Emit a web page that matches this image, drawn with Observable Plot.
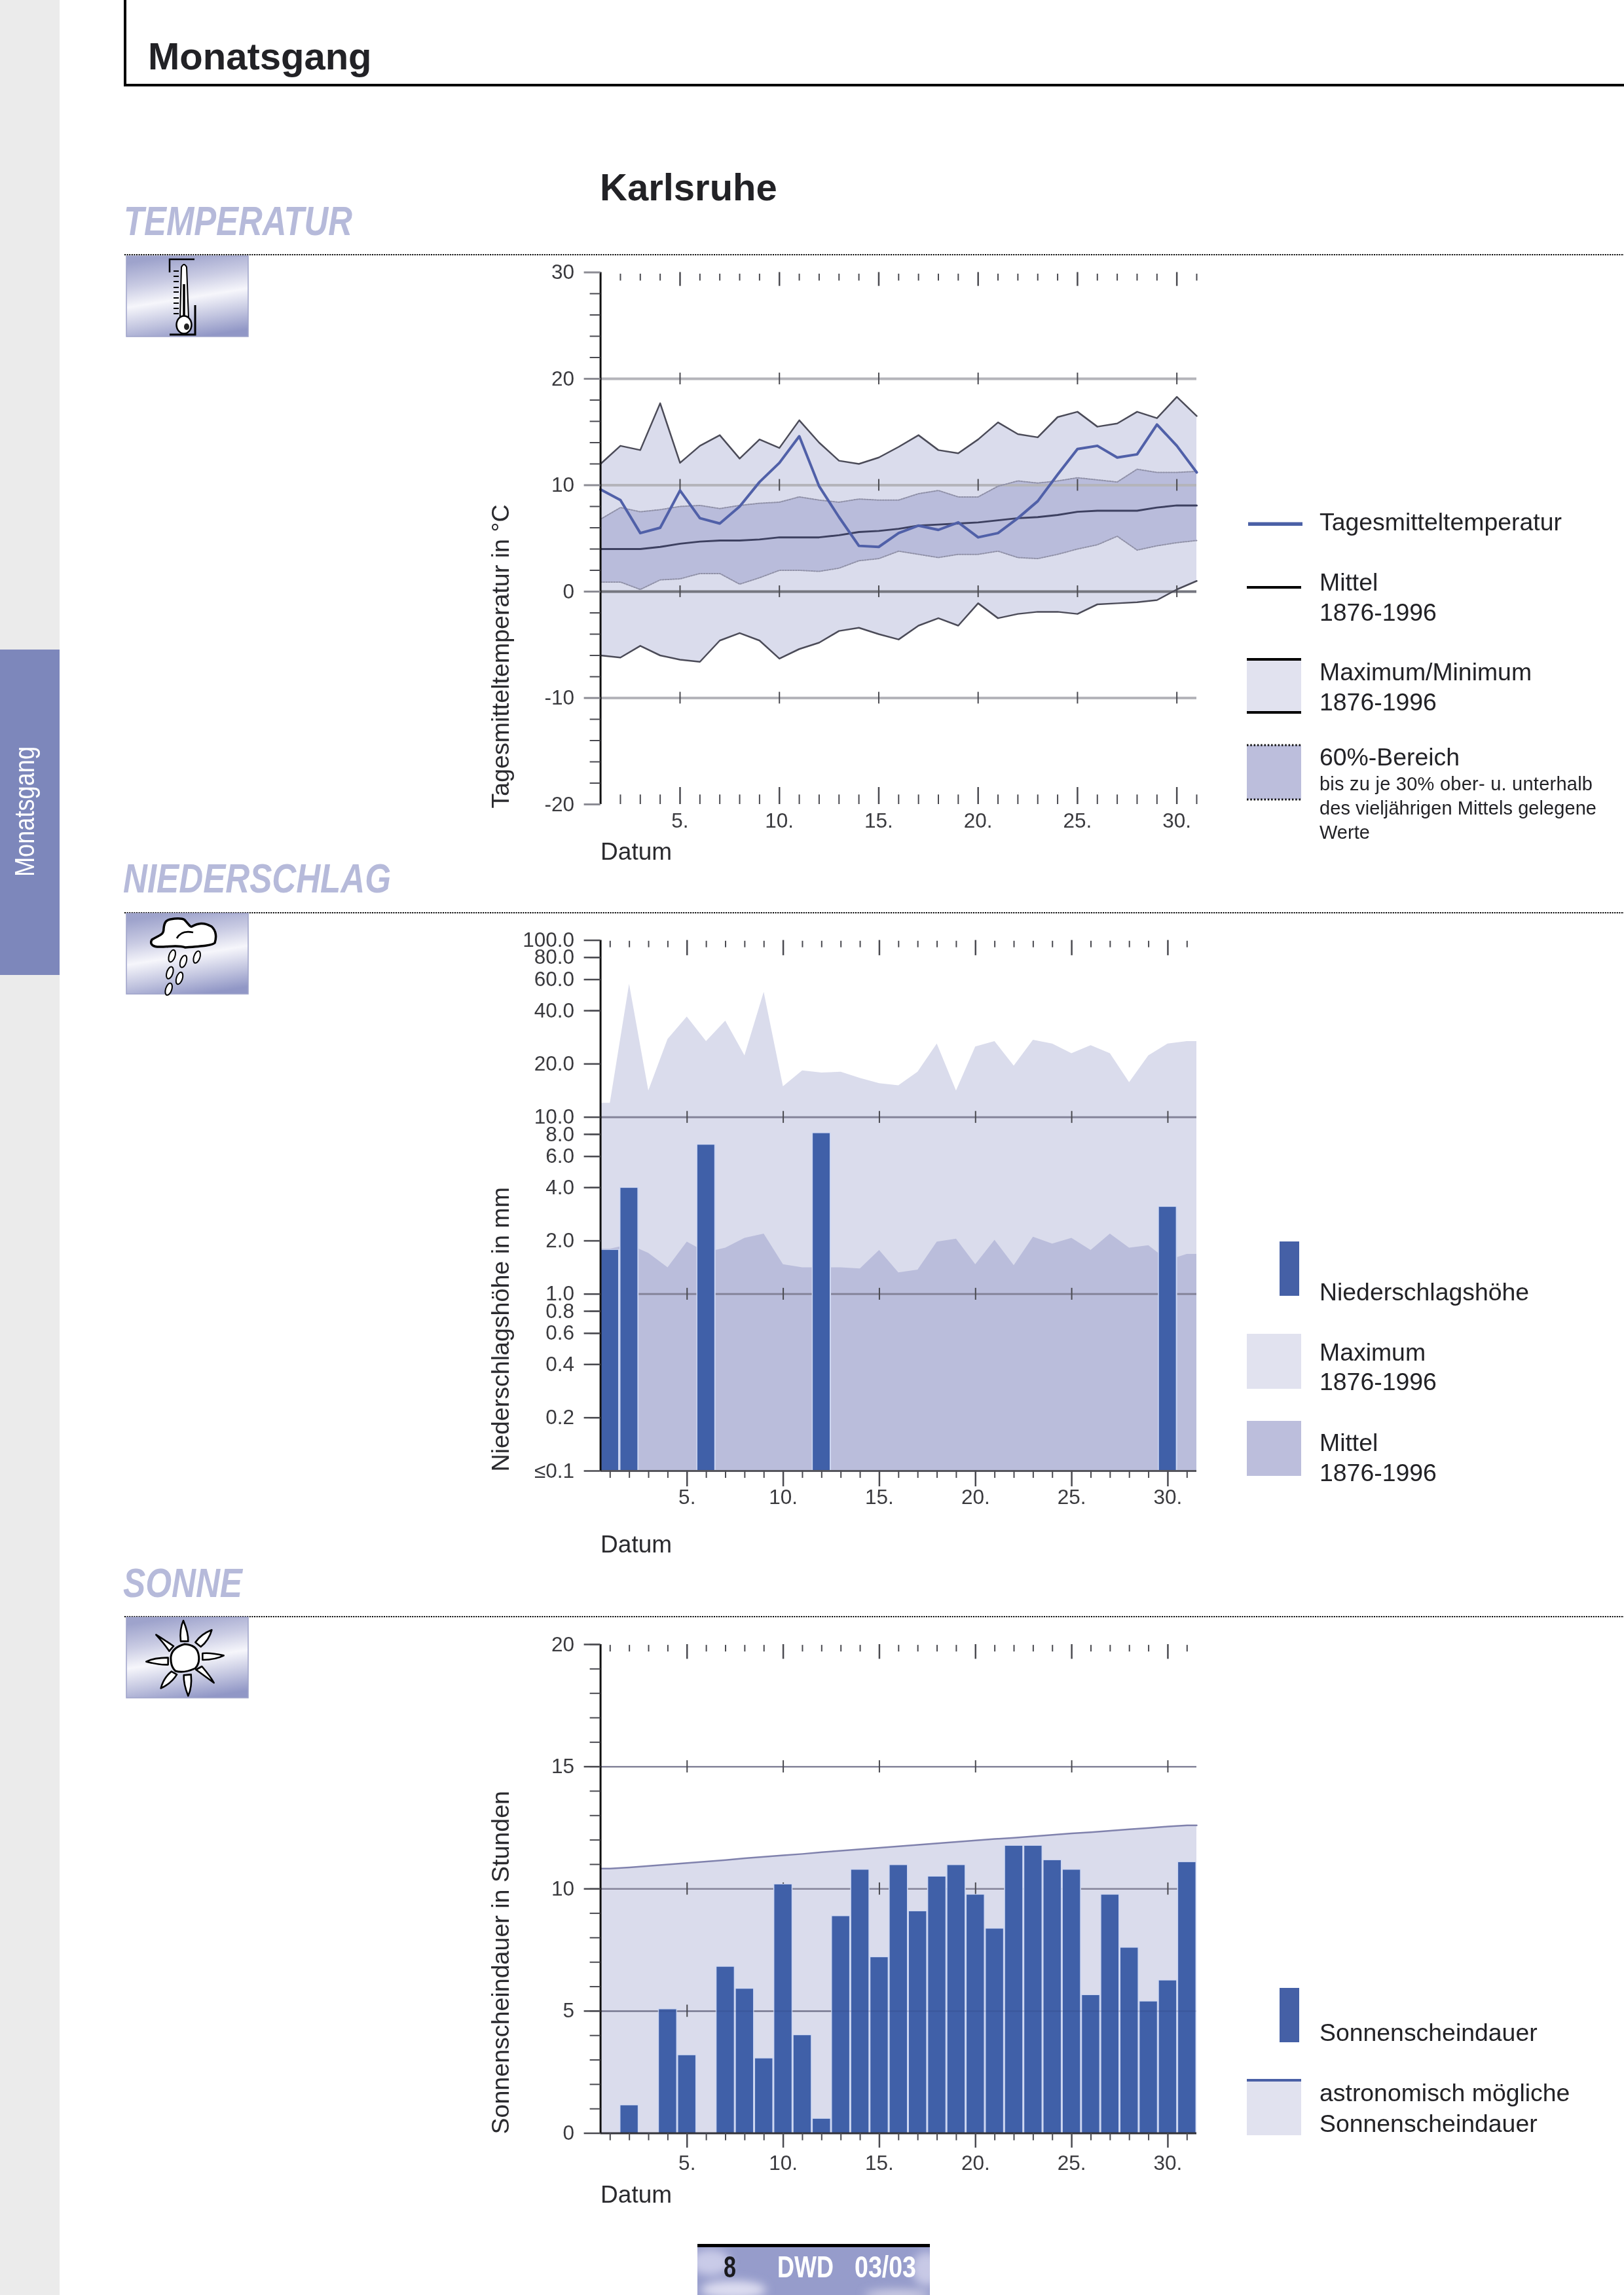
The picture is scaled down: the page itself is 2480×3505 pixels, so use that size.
<!DOCTYPE html>
<html lang="de">
<head>
<meta charset="utf-8">
<title>Monatsgang Karlsruhe</title>
<script src="https://cdn.jsdelivr.net/npm/d3@7"></script>
<script src="https://cdn.jsdelivr.net/npm/@observablehq/plot@0.6"></script>
<style>
html,body{margin:0;padding:0;background:#fff;width:2480px;height:3505px;overflow:hidden;font-family:"Liberation Sans",Arial,sans-serif}
#page{position:relative;width:2480px;height:3505px}
#page>svg{position:absolute;left:0;max-width:none}
</style>
</head>
<body>
<div id="page"></div>
<script>
const days = d3.range(1, 32);
const fives = [5, 10, 15, 20, 25, 30];

const tempMax = [12,13.7,13.3,17.7,12.1,13.7,14.7,12.5,14.3,13.5,16.1,14,12.3,12,12.6,13.6,14.7,13.3,13,14.3,15.9,14.8,14.5,16.4,16.9,15.5,15.8,16.9,16.3,18.3,16.5];
const tempMin = [-6,-6.2,-5.1,-6,-6.4,-6.6,-4.6,-3.9,-4.6,-6.3,-5.4,-4.8,-3.7,-3.4,-4,-4.5,-3.2,-2.5,-3.2,-1.1,-2.5,-2.1,-1.9,-1.9,-2.1,-1.2,-1.1,-1,-0.8,0.2,1];
const tempUpper = [6.8,7.9,7.5,7.7,8,8.1,7.8,8.1,8.3,8.4,8.9,8.6,8.4,8.7,8.6,8.6,9.2,9.5,8.9,8.9,9.9,10.4,10.2,10.4,10.7,10.5,10.3,11.5,11.2,11.2,11.3];
const tempLower = [0.9,0.9,0.2,1.1,1.2,1.7,1.7,0.7,1.3,2,2,1.9,2.2,2.9,3.1,3.8,3.5,3.2,3.5,3.5,3.8,3.2,3.1,3.5,4,4.4,5.2,3.9,4.3,4.6,4.8];
const tempMean = [4,4,4,4.2,4.5,4.7,4.8,4.8,4.9,5.1,5.1,5.1,5.3,5.6,5.7,5.9,6.2,6.3,6.4,6.5,6.7,6.9,7,7.2,7.5,7.6,7.6,7.6,7.9,8.1,8.1];
const tempDay = [9.6,8.6,5.5,6,9.5,6.9,6.4,8,10.3,12.1,14.6,9.9,7,4.3,4.2,5.5,6.2,5.8,6.5,5.1,5.5,6.9,8.5,11,13.4,13.7,12.6,12.9,15.7,13.7,11.2];
const tempMajorTicks = [30,20,10,0,-10,-20];
const tempMinorTicks = d3.range(-20, 31, 2);

const rainMax = [12,56.5,14.1,27.6,36.9,26.8,35,22.3,50.9,14.9,18.3,17.8,18,16.6,15.5,15.1,18,26,14.1,25,26.8,19.5,27.3,26,22.9,25.4,22.9,15.7,22.3,26,26.8];
const rainMean = [1.8,1.9,1.7,1.41,1.97,1.72,1.82,2.07,2.19,1.47,1.41,1.41,1.41,1.39,1.77,1.32,1.37,1.97,2.05,1.47,2.02,1.45,2.1,1.92,2.07,1.77,2.19,1.82,1.88,1.55,1.68];
const rainDays = [1,2,6,12,30];
const rainValues = [1.77,3.97,6.96,8.09,3.1];
const rainTicks = [100,80,60,40,20,10,8,6,4,2,1,0.8,0.6,0.4,0.2,0.1];

const sunValues = [0,1.13,0,5.06,3.18,0,6.8,5.9,3.05,10.17,4,0.58,8.87,10.77,7.19,10.96,9.07,10.49,10.96,9.75,8.36,11.75,11.75,11.16,10.77,5.64,9.75,7.58,5.38,6.24,11.08];
const sunAstro = [10.83,10.88,10.94,11,11.06,11.12,11.18,11.25,11.31,11.37,11.43,11.5,11.56,11.62,11.68,11.74,11.8,11.86,11.92,11.98,12.04,12.09,12.15,12.21,12.27,12.32,12.38,12.44,12.49,12.55,12.6];
const sunMajorTicks = [20,15,10,5,0];
const sunMinorTicks = d3.range(0, 21, 1);

const FONT = '"Liberation Sans", Arial, sans-serif';
const INK = "#2a2a2e", TICK = "#4a4a50", BLUE = "#4060a8", HALO = "#cdd7f2";
const page = document.getElementById("page");
const W = 2480, LEFT = 916.6, RIGHT = 1827;

function mount(svg, top) {
  svg.style.top = top + "px";
  // the plots in the reference are a soft raster; page-set titles stay crisp
  svg.querySelectorAll("g[aria-label]").forEach(g => {
    if (g.getAttribute("aria-label") !== "text") g.style.filter = "blur(0.7px)";
  });
  page.appendChild(svg);
}
const rows = (vals) => days.map((d, i) => ({d, v: vals[i]}));
// bars and areas on a band-like axis reach to the edge of the first and last day
const padded = (vals) => [{d: .5, v: vals[0]}, ...rows(vals), {d: 31.5, v: vals[30]}];
const titleMark = (text, dy) => Plot.text([text], {frameAnchor: "bottom-left", rotate: -90, textAnchor: "start", dx: 776 - LEFT, dy, fontSize: 37.6, fill: INK});
const datumMark = (dy) => Plot.text(["Datum"], {frameAnchor: "bottom-left", dy, fontSize: 37, fill: INK});
const baseOpts = (top, height, bottom) => ({width: W, height, marginLeft: LEFT, marginRight: W - RIGHT, marginTop: top, marginBottom: bottom,
  style: {fontFamily: FONT, background: "transparent", overflow: "visible"}});
const axesY = (minor, major, fmt, stroke, sw) => [
  Plot.axisY(minor, {anchor: "left", tickSize: 16, tickFormat: () => "", label: null, stroke: TICK, strokeWidth: 2}),
  Plot.axisY(major, {anchor: "left", tickSize: 25, tickPadding: 15, tickFormat: fmt, label: null, fontSize: 31.5, fill: "#3a3a3e", stroke, strokeWidth: sw})
];
const xLabels = (pad) => Plot.axisX(fives, {anchor: "bottom", tickSize: 0, tickPadding: pad, tickFormat: d => d + ".", label: null, fontSize: 31.5, fill: "#3a3a3e"});
const dayTicks = (isMajor, yA, yB, yC, yD) => [
  Plot.ruleX(days.filter(d => !isMajor(d)), {x: d => d, y1: yA, y2: yB, stroke: TICK, strokeWidth: 2}),
  Plot.ruleX(days.filter(isMajor), {x: d => d, y1: yC, y2: yD, stroke: TICK, strokeWidth: 2.5})
];
const isFive = d => d % 5 === 0;

/* ---------- Temperatur ---------- */
const tRows = days.map((d, i) => ({d, hi: tempMax[i], lo: tempMin[i], up: tempUpper[i], dn: tempLower[i], mean: tempMean[i], day: tempDay[i]}));
mount(Plot.plot({
  ...baseOpts(75.5, 1060, 172),
  x: {domain: [1, 31], axis: null},
  y: {domain: [-20, 30], axis: null},
  marks: [
    Plot.areaY(tRows, {x: "d", y1: "lo", y2: "hi", fill: "#dadcec"}),
    Plot.areaY(tRows, {x: "d", y1: "dn", y2: "up", fill: "#b9bcdb"}),
    Plot.ruleY([20, 10, -10], {stroke: "#b4b4ba", strokeWidth: 4, mixBlendMode: "multiply"}),
    Plot.ruleY([0], {stroke: "#75767f", strokeWidth: 4}),
    Plot.ruleX(fives.flatMap(d => [20, 10, 0, -10].map(v => ({d, v}))), {x: "d", y1: r => r.v - .55, y2: r => r.v + .55, stroke: TICK, strokeWidth: 2}),
    Plot.lineY(tRows, {x: "d", y: "hi", stroke: "#4b4b58", strokeWidth: 2.5}),
    Plot.lineY(tRows, {x: "d", y: "lo", stroke: "#4b4b58", strokeWidth: 2.5}),
    Plot.lineY(tRows, {x: "d", y: "up", stroke: "#9091a8", strokeWidth: 2, strokeDasharray: "2 2"}),
    Plot.lineY(tRows, {x: "d", y: "dn", stroke: "#9091a8", strokeWidth: 2, strokeDasharray: "2 2"}),
    Plot.lineY(tRows, {x: "d", y: "mean", stroke: "#3d4060", strokeWidth: 3}),
    Plot.lineY(tRows, {x: "d", y: "day", stroke: "#5060a8", strokeWidth: 4}),
    ...dayTicks(isFive, 29.85, 29.2, 30, 28.7),
    ...dayTicks(isFive, -19.1, -20, -18.4, -20),
    Plot.ruleX([1], {stroke: "#111", strokeWidth: 3}),
    ...axesY(tempMinorTicks, tempMajorTicks, d => String(d), "#8c8c94", 3),
    xLabels(13),
    titleMark("Tagesmitteltemperatur in °C", 6),
    datumMark(84)
  ]
}), 340);

/* ---------- Niederschlag ---------- */
const rainBars = rainDays.map((d, i) => ({d, v: rainValues[i]}));
mount(Plot.plot({
  ...baseOpts(75.6, 1010, 124),
  x: {domain: [.5, 31.5], axis: null},
  y: {type: "log", domain: [.1, 100], axis: null},
  marks: [
    Plot.areaY(padded(rainMax), {x: "d", y1: () => .1, y2: "v", fill: "#dadcec"}),
    Plot.areaY(padded(rainMean), {x: "d", y1: () => .1, y2: "v", fill: "#babddb"}),
    Plot.ruleY([10, 1], {stroke: "#85859a", strokeWidth: 3}),
    Plot.ruleX(fives.flatMap(d => [10, 1].map(v => ({d, v}))), {x: "d", y1: r => r.v * .925, y2: r => r.v * 1.08, stroke: TICK, strokeWidth: 2}),
    Plot.rect(rainBars, {x1: r => r.d - .5, x2: r => r.d + .5, y1: () => .1, y2: "v", fill: HALO, insetTop: -1}),
    Plot.rect(rainBars, {x1: r => r.d - .5, x2: r => r.d + .5, y1: () => .1, y2: "v", fill: BLUE, insetLeft: 1.5, insetRight: 2}),
    Plot.ruleY([.1], {stroke: "#55555c", strokeWidth: 3}),
    ...dayTicks(isFive, 99, 91, 100, 82),
    ...dayTicks(isFive, .1, .091, .1, .0815),
    Plot.ruleX([.5], {stroke: "#111", strokeWidth: 3}),
    ...axesY(rainTicks.filter(d => ![100,10,1,.1].includes(d)), rainTicks, d => d === .1 ? "≤0.1" : d.toFixed(1), TICK, 2.5),
    xLabels(28),
    titleMark("Niederschlagshöhe in mm", 1),
    datumMark(124)
  ]
}), 1360);

/* ---------- Sonne ---------- */
const sunRows = rows(sunValues).filter(r => r.v > 0);
mount(Plot.plot({
  ...baseOpts(71, 1005, 187.5),
  x: {domain: [.5, 31.5], axis: null},
  y: {domain: [0, 20], axis: null},
  marks: [
    Plot.areaY(padded(sunAstro), {x: "d", y1: () => 0, y2: "v", fill: "#dadcec"}),
    Plot.ruleY([15, 10, 5], {stroke: "#85859a", strokeWidth: 2.5}),
    Plot.ruleX(fives.flatMap(d => [15, 10, 5].map(v => ({d, v}))), {x: "d", y1: r => r.v - .25, y2: r => r.v + .25, stroke: TICK, strokeWidth: 2}),
    Plot.lineY(padded(sunAstro), {x: "d", y: "v", stroke: "#8082ad", strokeWidth: 2.5}),
    Plot.rect(sunRows, {x1: r => r.d - .5, x2: r => r.d + .5, y1: () => 0, y2: "v", fill: HALO, insetTop: -1}),
    Plot.rect(sunRows, {x1: r => r.d - .5, x2: r => r.d + .5, y1: () => 0, y2: "v", fill: BLUE, insetLeft: 1.5, insetRight: 1.5}),
    Plot.ruleY([5], {stroke: "#1d2a55", strokeWidth: 2, strokeOpacity: .15}),
    Plot.ruleY([0], {stroke: "#33333a", strokeWidth: 3}),
    ...dayTicks(isFive, 19.97, 19.7, 20, 19.4),
    ...dayTicks(isFive, 0, -.3, 0, -.6),
    Plot.ruleX([.5], {stroke: "#111", strokeWidth: 3}),
    ...axesY(sunMinorTicks, sunMajorTicks, d => String(d), TICK, 2.5),
    xLabels(34),
    titleMark("Sonnenscheindauer in Stunden", 1.5),
    datumMark(105.5)
  ]
}), 2440);

/* ---------- Seitenrahmen, Legenden, Symbole ---------- */
const T = (x, y, s, size = 37.4, extra = "") => `<text x="${x}" y="${y}" font-size="${size}" fill="#222226" ${extra}>${s}</text>`;
const H = (x, y, s, len) => `<text x="${x}" y="${y}" font-size="63" font-weight="700" font-style="italic" fill="#b6bada" textLength="${len}" lengthAdjust="spacingAndGlyphs">${s}</text>`;
const icon = (y) => `<rect x="193" y="${y}" width="186" height="123" fill="url(#ig)" stroke="#9ea3c9" stroke-width="1.5"/>`;
const dots = (y) => `<line x1="190" x2="2480" y1="${y}" y2="${y}" stroke="#000" stroke-width="2.2" stroke-dasharray="2 1.6"/>`;

const sunRays = [
  [[390,345],[378,440],[412,440]],[[520,388],[445,445],[470,465]],[[575,505],[478,495],[478,525]],[[530,630],[448,570],[475,555]],
  [[412,690],[392,595],[425,592]],[[287,655],[335,578],[360,592]],[[220,533],[320,515],[320,547]],[[265,410],[345,462],[325,485]]
].map(p => `<path d="M${p[1][0]/3+150} ${p[1][1]/3+2360}Q${(p[0][0]+p[1][0])/6+150-4} ${(p[0][1]+p[1][1])/6+2360-3} ${p[0][0]/3+150} ${p[0][1]/3+2360}Q${(p[0][0]+p[2][0])/6+150+4} ${(p[0][1]+p[2][1])/6+2360+3} ${p[2][0]/3+150} ${p[2][1]/3+2360}Z" fill="#fff" stroke="#000" stroke-width="2.6" stroke-linejoin="round"/>`).join("");
const drops = [[338,540],[390,565],[452,545],[328,617],[372,642],[323,692]]
  .map(p => `<ellipse cx="${p[0]/3+150}" cy="${p[1]/3+1280}" rx="4.6" ry="9.5" transform="rotate(18 ${p[0]/3+150} ${p[1]/3+1280})" fill="#fff" stroke="#000" stroke-width="2"/>`).join("");
const thermTicks = [414,422,430,439,446,455,463,471,479].map(y => `<line x1="265" x2="273" y1="${y}" y2="${y}" stroke="#000" stroke-width="2"/>`).join("");

const overlay = `<svg xmlns="http://www.w3.org/2000/svg" width="2480" height="3505" style="top:0" font-family='${FONT}'>
<defs>
<linearGradient id="ig" x1=".38" y1="0" x2=".62" y2="1">
<stop offset="0" stop-color="#9ea3cc"/><stop offset=".28" stop-color="#c9cbe3"/><stop offset=".52" stop-color="#f6f6fb"/><stop offset=".78" stop-color="#c1c4df"/><stop offset="1" stop-color="#9197c6"/>
</linearGradient>
<filter id="bl" x="-30%" y="-30%" width="160%" height="160%"><feGaussianBlur stdDeviation="7"/></filter>
<clipPath id="fc"><rect x="1065" y="3432" width="355" height="73"/></clipPath>
</defs>
<rect x="0" y="0" width="91" height="3505" fill="#ebebeb"/>
<rect x="0" y="992" width="91" height="497" fill="#7d87bb"/>
<text transform="translate(52 1339) rotate(-90)" font-size="42" fill="#fff" textLength="199" lengthAdjust="spacingAndGlyphs">Monatsgang</text>
<path d="M191 0V130H2480" fill="none" stroke="#000" stroke-width="4"/>
<text x="226" y="106" font-size="58" font-weight="700" fill="#222226">Monatsgang</text>
<text x="916" y="306" font-size="58" font-weight="700" fill="#222226">Karlsruhe</text>

${H(189,359,"TEMPERATUR",349)}${H(188,1363,"NIEDERSCHLAG",409)}${H(188,2439,"SONNE",182)}
${dots(389)}${dots(1394)}${dots(2469)}
${icon(391)}${icon(1395)}${icon(2470)}

<path d="M297 396H259V416" fill="none" stroke="#000" stroke-width="2.5"/>
<path d="M298 466V511H259" fill="none" stroke="#000" stroke-width="3"/>
${thermTicks}
<path d="M275 486 277 408Q281 400 285 408L288 486Z" fill="#fff" stroke="#000" stroke-width="2"/>
<line x1="281" x2="281" y1="434" y2="486" stroke="#000" stroke-width="3.5"/>
<ellipse cx="281" cy="496" rx="11.5" ry="13.5" fill="#fff" stroke="#000" stroke-width="2.5"/>
<ellipse cx="285" cy="499" rx="4" ry="5" fill="#222"/>

<path d="M232 1435C245 1427 250 1428 250 1418 251 1407 255 1405 260 1404 272 1402 279 1403 282 1405 288 1412 291 1416 293 1415 302 1410 311 1408 323 1415 330 1421 331 1431 328 1440 323 1444 310 1445 283 1447 270 1442 255 1447 240 1446 231 1445 229 1440 232 1435Z" fill="#fff" stroke="#000" stroke-width="3.5"/>
<path d="M270 1433Q277 1420 295 1424" fill="none" stroke="#000" stroke-width="2.8"/>
${drops}

<path d="M282 2511Q300 2512 303 2526 306 2540 298 2548 280 2556 268 2552 260 2545 261 2530 263 2516 282 2511Z" fill="#fff" stroke="#000" stroke-width="3"/>
${sunRays}

<rect x="1906" y="797.5" width="83" height="5.5" fill="#4a60a6"/>
${T(2015,810,"Tagesmitteltemperatur")}
<rect x="1904" y="895" width="83" height="4" fill="#000"/>
${T(2015,902,"Mittel")}${T(2015,948,"1876-1996")}
<rect x="1904" y="1005" width="83" height="85" fill="#e1e2ef"/>
<rect x="1904" y="1005" width="83" height="4" fill="#000"/><rect x="1904" y="1086" width="83" height="4" fill="#000"/>
${T(2015,1039,"Maximum/Minimum")}${T(2015,1085,"1876-1996")}
<rect x="1904" y="1138" width="83" height="83" fill="#bcbedc"/>
<line x1="1904" x2="1987" y1="1138" y2="1138" stroke="#111" stroke-width="3" stroke-dasharray="2.5 2.8"/>
<line x1="1904" x2="1987" y1="1221" y2="1221" stroke="#111" stroke-width="3" stroke-dasharray="2.5 2.8"/>
${T(2015,1169,"60%-Bereich")}
${T(2015,1207,"bis zu je 30% ober- u. unterhalb",29,'textLength="417"')}
${T(2015,1244,"des vieljährigen Mittels gelegene",29,'textLength="423"')}
${T(2015,1281,"Werte",29)}

<rect x="1954" y="1896" width="30" height="83" fill="#4560a6"/>
${T(2015,1986,"Niederschlagshöhe")}
<rect x="1904" y="2037" width="83" height="84" fill="#e1e2ef"/>
${T(2015,2078,"Maximum")}${T(2015,2123,"1876-1996")}
<rect x="1904" y="2170" width="83" height="84" fill="#bcbedc"/>
${T(2015,2216,"Mittel")}${T(2015,2262,"1876-1996")}

<rect x="1954" y="3036" width="30" height="83" fill="#4560a6"/>
${T(2015,3117,"Sonnenscheindauer")}
<rect x="1904" y="3175" width="83" height="86" fill="#e1e2ef"/>
<rect x="1904" y="3175" width="83" height="4" fill="#4a60a6"/>
${T(2015,3209,"astronomisch mögliche")}${T(2015,3256,"Sonnenscheindauer")}

<rect x="1065" y="3427" width="355" height="5" fill="#000"/>
<rect x="1065" y="3432" width="355" height="73" fill="#969ccb"/>
<g clip-path="url(#fc)" filter="url(#bl)">
<ellipse cx="1085" cy="3455" rx="30" ry="20" fill="#c9cbe8"/>
<ellipse cx="1120" cy="3497" rx="50" ry="14" fill="#dcdcf0"/>
<ellipse cx="1415" cy="3465" rx="22" ry="26" fill="#c8c9e6"/>
<ellipse cx="1370" cy="3505" rx="50" ry="8" fill="#cfcfe5"/>
</g>
<text x="1105" y="3478" font-size="46" font-weight="700" fill="#1a1a1e" textLength="19" lengthAdjust="spacingAndGlyphs">8</text>
<text x="1187" y="3478" font-size="46" font-weight="700" fill="#fff" textLength="86" lengthAdjust="spacingAndGlyphs">DWD</text>
<text x="1305" y="3478" font-size="46" font-weight="700" fill="#fff" textLength="94" lengthAdjust="spacingAndGlyphs">03/03</text>
</svg>`;
page.insertAdjacentHTML("afterbegin", overlay);
</script>
</body>
</html>
